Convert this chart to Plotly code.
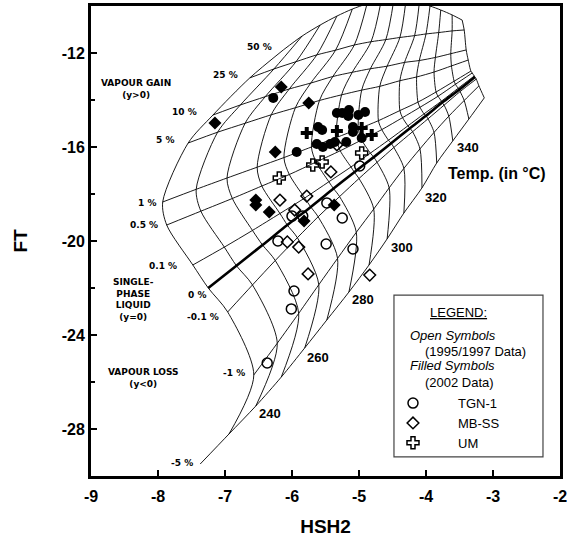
import plotly.graph_objects as go

# ---- FT-HSH2 grid: isotherms (°C) and steam-fraction (y) lines ----
T_LEVELS = [230, 240, 250, 260, 270, 280, 290, 300, 310, 320, 330, 340, 350, 360]
Y_NAMES = ["-5 %", "-1 %", "-0.1 %", "0 %", "0.1 %", "0.5 %", "1 %", "5 %", "10 %", "25 %", "50 %"]

# grid nodes along each steam-fraction line, one value per isotherm (230 ... 360 °C)
hsh_neg5 = [-6.94, -6.54, -6.16, -5.81, -5.48, -5.15, -4.85, -4.58, -4.33, -4.06, -3.84, -3.60, -3.36, -3.13]
ft_neg5 = [-28.21, -27.02, -25.79, -24.55, -23.36, -22.17, -21.02, -19.91, -18.81, -17.74, -16.68, -15.74, -14.81, -13.91]
hsh_neg1 = [-6.57, -6.22, -5.90, -5.60, -5.32, -5.04, -4.78, -4.55, -4.33, -4.09, -3.88, -3.66, -3.43, -3.21]
ft_neg1 = [-25.70, -24.35, -23.08, -21.86, -20.74, -19.63, -18.64, -17.74, -16.91, -16.08, -15.38, -14.69, -14.02, -13.40]
hsh_neg01 = [-6.96, -6.59, -6.25, -5.92, -5.61, -5.29, -5.00, -4.73, -4.48, -4.20, -3.97, -3.73, -3.49, -3.25]
ft_neg01 = [-23.02, -21.87, -20.83, -19.86, -18.97, -18.11, -17.34, -16.65, -16.02, -15.35, -14.80, -14.22, -13.64, -13.11]
hsh_zero = [-7.25, -6.83, -6.44, -6.07, -5.72, -5.38, -5.07, -4.78, -4.52, -4.24, -4.00, -3.76, -3.50, -3.27]
ft_zero = [-22.00, -21.05, -20.17, -19.32, -18.55, -17.77, -17.07, -16.43, -15.84, -15.20, -14.67, -14.11, -13.55, -13.02]
hsh_pos01 = [-7.48, -7.01, -6.59, -6.18, -5.81, -5.45, -5.12, -4.83, -4.56, -4.27, -4.03, -3.77, -3.52, -3.28]
ft_pos01 = [-21.02, -20.26, -19.55, -18.83, -18.17, -17.48, -16.85, -16.26, -15.71, -15.10, -14.59, -14.05, -13.50, -12.98]
hsh_pos05 = [-7.87, -7.36, -6.89, -6.45, -6.04, -5.64, -5.28, -4.96, -4.66, -4.35, -4.09, -3.82, -3.56, -3.31]
ft_pos05 = [-19.32, -18.73, -18.19, -17.66, -17.17, -16.64, -16.16, -15.70, -15.26, -14.75, -14.31, -13.84, -13.33, -12.85]
hsh_pos1 = [-7.93, -7.43, -6.97, -6.52, -6.12, -5.71, -5.34, -5.01, -4.71, -4.39, -4.12, -3.85, -3.58, -3.33]
ft_pos1 = [-18.34, -17.80, -17.32, -16.86, -16.45, -16.00, -15.60, -15.23, -14.88, -14.45, -14.09, -13.66, -13.20, -12.77]
hsh_pos5 = [-7.55, -7.11, -6.70, -6.31, -5.95, -5.59, -5.26, -4.96, -4.69, -4.39, -4.14, -3.88, -3.62, -3.37]
ft_pos5 = [-15.83, -15.37, -14.99, -14.63, -14.33, -14.02, -13.78, -13.58, -13.42, -13.18, -13.02, -12.81, -12.55, -12.30]
hsh_pos10 = [-7.18, -6.77, -6.40, -6.04, -5.72, -5.39, -5.10, -4.83, -4.58, -4.32, -4.10, -3.86, -3.63, -3.40]
ft_pos10 = [-14.64, -14.21, -13.86, -13.53, -13.28, -13.00, -12.82, -12.67, -12.56, -12.40, -12.32, -12.19, -12.03, -11.87]
hsh_pos25 = [-6.63, -6.27, -5.94, -5.63, -5.35, -5.07, -4.82, -4.60, -4.39, -4.17, -4.00, -3.81, -3.61, -3.43]
ft_pos25 = [-13.06, -12.68, -12.37, -12.08, -11.88, -11.66, -11.52, -11.43, -11.34, -11.26, -11.19, -11.13, -11.06, -11.02]
hsh_pos50 = [-6.13, -5.85, -5.58, -5.33, -5.10, -4.88, -4.67, -4.48, -4.30, -4.10, -3.94, -3.78, -3.61, -3.46]
ft_pos50 = [-11.87, -11.28, -10.81, -10.43, -10.13, -9.91, -9.79, -9.74, -9.79, -9.87, -10.00, -10.17, -10.38, -10.60]
# the -5 % line runs on past the 230 °C isotherm
neg5_tail_hsh = -7.37
neg5_tail_ft = -29.49

grid_hsh = [hsh_neg5, hsh_neg1, hsh_neg01, hsh_zero, hsh_pos01, hsh_pos05, hsh_pos1,
            hsh_pos5, hsh_pos10, hsh_pos25, hsh_pos50]
grid_ft = [ft_neg5, ft_neg1, ft_neg01, ft_zero, ft_pos01, ft_pos05, ft_pos1,
           ft_pos5, ft_pos10, ft_pos25, ft_pos50]

# ---- sample data (HSH2, FT) ----
tgn_old_hsh = [-6.00, -5.84, -5.48, -5.25, -6.21, -5.49, -5.09, -4.99, -5.97, -6.01, -6.37]
tgn_old_ft = [-18.94, -18.94, -18.38, -19.02, -20.00, -20.13, -20.34, -16.81, -22.13, -22.89, -25.19]
tgn_new_hsh = [-6.28, -5.93, -5.33, -5.25, -5.15, -5.16, -5.01, -4.91, -5.61, -5.55, -5.09, -5.09,
               -4.96, -5.63, -5.54, -5.43, -5.36, -5.19]
tgn_new_ft = [-13.91, -16.21, -14.55, -14.55, -14.43, -14.68, -14.64, -14.51, -15.15, -15.28, -15.15,
              -15.36, -15.62, -15.87, -16.00, -15.87, -15.79, -15.79]
mb_old_hsh = [-6.18, -5.78, -5.96, -6.07, -5.90, -5.76, -4.84, -5.42, -5.33]
mb_old_ft = [-18.26, -18.09, -18.68, -20.04, -20.26, -21.40, -21.45, -17.06, -15.91]
mb_new_hsh = [-7.15, -6.16, -5.75, -6.25, -6.54, -6.54, -6.34, -5.82, -5.37]
mb_new_ft = [-14.98, -13.45, -14.13, -16.21, -18.26, -18.47, -18.77, -19.15, -18.47]
um_old_hsh = [-6.19, -5.69, -5.55, -4.96]
um_old_ft = [-17.32, -16.77, -16.64, -16.26]
um_new_hsh = [-5.78, -5.33, -4.96, -4.81]
um_new_ft = [-15.40, -15.32, -15.19, -15.49]

fig = go.Figure()

# steam-fraction lines
for name, xs, ys in zip(Y_NAMES, grid_hsh, grid_ft):
    if name == "-5 %":
        xs = [neg5_tail_hsh] + xs
        ys = [neg5_tail_ft] + ys
    fig.add_trace(go.Scatter(x=xs, y=ys, mode="lines", showlegend=False, hoverinfo="skip",
                             line=dict(color="black", width=2.6 if name == "0 %" else 0.9,
                                       shape="spline", smoothing=0.8)))
# isotherms
for j, t in enumerate(T_LEVELS):
    fig.add_trace(go.Scatter(x=[row[j] for row in grid_hsh], y=[row[j] for row in grid_ft],
                             mode="lines", showlegend=False, hoverinfo="skip",
                             line=dict(color="black", width=0.9, shape="spline", smoothing=0.8)))

mk_line = dict(color="black", width=1.5)
fig.add_trace(go.Scatter(x=tgn_old_hsh, y=tgn_old_ft, mode="markers", name="TGN-1",
                         marker=dict(symbol="circle-open", size=10, color="black", line=mk_line)))
fig.add_trace(go.Scatter(x=mb_old_hsh, y=mb_old_ft, mode="markers", name="MB-SS",
                         marker=dict(symbol="diamond-open", size=9, color="black", line=mk_line)))
fig.add_trace(go.Scatter(x=um_old_hsh, y=um_old_ft, mode="markers", name="UM",
                         marker=dict(symbol="cross-open", size=10, color="black", line=mk_line)))
fig.add_trace(go.Scatter(x=tgn_new_hsh, y=tgn_new_ft, mode="markers", showlegend=False,
                         marker=dict(symbol="circle", size=10, color="black")))
fig.add_trace(go.Scatter(x=mb_new_hsh, y=mb_new_ft, mode="markers", showlegend=False,
                         marker=dict(symbol="diamond", size=10, color="black")))
fig.add_trace(go.Scatter(x=um_new_hsh, y=um_new_ft, mode="markers", showlegend=False,
                         marker=dict(symbol="cross", size=10, color="black")))

# ---- grid labels ----
y_label_hsh = [-7.64, -6.87, -7.33, -7.42, -7.93, -8.21, -8.16, -7.90, -7.60, -7.00, -6.48]
y_label_ft = [-29.45, -25.62, -23.23, -22.30, -21.06, -19.32, -18.38, -15.70, -14.51, -12.94, -11.74]
t_labels = ["240", "260", "280", "300", "320", "340"]
t_label_hsh = [-6.33, -5.61, -4.94, -4.36, -3.85, -3.37]
t_label_ft = [-27.32, -24.94, -22.51, -20.26, -18.13, -16.04]

pct_font = dict(family="DejaVu Sans", size=9, color="black", weight="bold")
for txt, x, y in zip(Y_NAMES, y_label_hsh, y_label_ft):
    fig.add_annotation(x=x, y=y, text=txt, showarrow=False, font=pct_font)
for txt, x, y in zip(t_labels, t_label_hsh, t_label_ft):
    fig.add_annotation(x=x, y=y, text=txt, showarrow=False,
                       font=dict(family="Arial", size=13, color="black", weight="bold"))
fig.add_annotation(x=-2.94, y=-17.11, text="Temp. (in °C)", showarrow=False,
                   font=dict(family="Arial", size=16, color="black", weight="bold"))

region_font = dict(family="DejaVu Sans", size=9, color="black", weight="bold")
fig.add_annotation(x=-8.33, y=-13.53, text="VAPOUR GAIN<br>(y>0)", showarrow=False, font=region_font)
fig.add_annotation(x=-8.37, y=-22.47, text="SINGLE-<br>PHASE<br>LIQUID<br>(y=0)", showarrow=False,
                   font=region_font)
fig.add_annotation(x=-8.22, y=-25.83, text="VAPOUR LOSS<br>(y<0)", showarrow=False, font=region_font)

# ---- legend panel ----
fig.add_shape(type="rect", x0=-4.478, y0=-29.19, x1=-2.254, y1=-22.30,
              line=dict(color="#444", width=1.2), fillcolor="white", layer="below")
leg_font = dict(family="Arial", size=13, color="black")
fig.add_annotation(x=-3.52, y=-23.06, text="<u>LEGEND:</u>", showarrow=False, font=leg_font)
legend_lines = ["<i>Open Symbols</i>", "(1995/1997 Data)", "<i>Filled Symbols</i>", "(2002 Data)"]
legend_line_x = [-4.27, -4.04, -4.27, -4.04]
legend_line_y = [-24.01, -24.71, -25.31, -26.01]
for txt, x, y in zip(legend_lines, legend_line_x, legend_line_y):
    fig.add_annotation(x=x, y=y, text=txt, xanchor="left", showarrow=False, font=leg_font)

fig.update_layout(
    width=574, height=537, margin=dict(l=91, r=14, t=6, b=61),
    plot_bgcolor="white", paper_bgcolor="white",
    showlegend=True,
    legend=dict(x=0.5906, y=0.187, xanchor="left", yanchor="top", bgcolor="rgba(0,0,0,0)",
                font=dict(family="Arial", size=13, color="black"), itemwidth=80, tracegroupgap=0),
)
fig.update_xaxes(range=[-9, -2], tickvals=[-9, -8, -7, -6, -5, -4, -3, -2],
                 ticktext=["-9", "-8", "-7", "-6", "-5", "-4", "-3", "-2"],
                 ticks="inside", ticklen=6, tickwidth=2, tickcolor="black", ticklabelstandoff=4,
                 showline=True, linewidth=3, linecolor="black", mirror=True, showgrid=False, zeroline=False,
                 automargin=False,
                 tickfont=dict(family="Arial", size=16, color="black", weight="bold"),
                 title=dict(text="HSH2", font=dict(family="Arial", size=19, color="black", weight="bold"),
                            standoff=21))
fig.update_yaxes(range=[-30, -10], tickvals=[-28, -24, -20, -16, -12],
                 ticktext=["-28", "-24", "-20", "-16", "-12"],
                 ticks="inside", ticklen=6, tickwidth=2, tickcolor="black",
                 minor=dict(tickvals=[-26, -22, -18, -14], ticks="inside", ticklen=4, tickwidth=1.5,
                            tickcolor="black"),
                 showline=True, linewidth=3, linecolor="black", mirror=True, showgrid=False, zeroline=False,
                 automargin=False,
                 tickfont=dict(family="Arial", size=16, color="black", weight="bold"),
                 title=dict(text="FT", font=dict(family="Arial", size=19, color="black", weight="bold"),
                            standoff=30))

fig.write_html("out.html")
